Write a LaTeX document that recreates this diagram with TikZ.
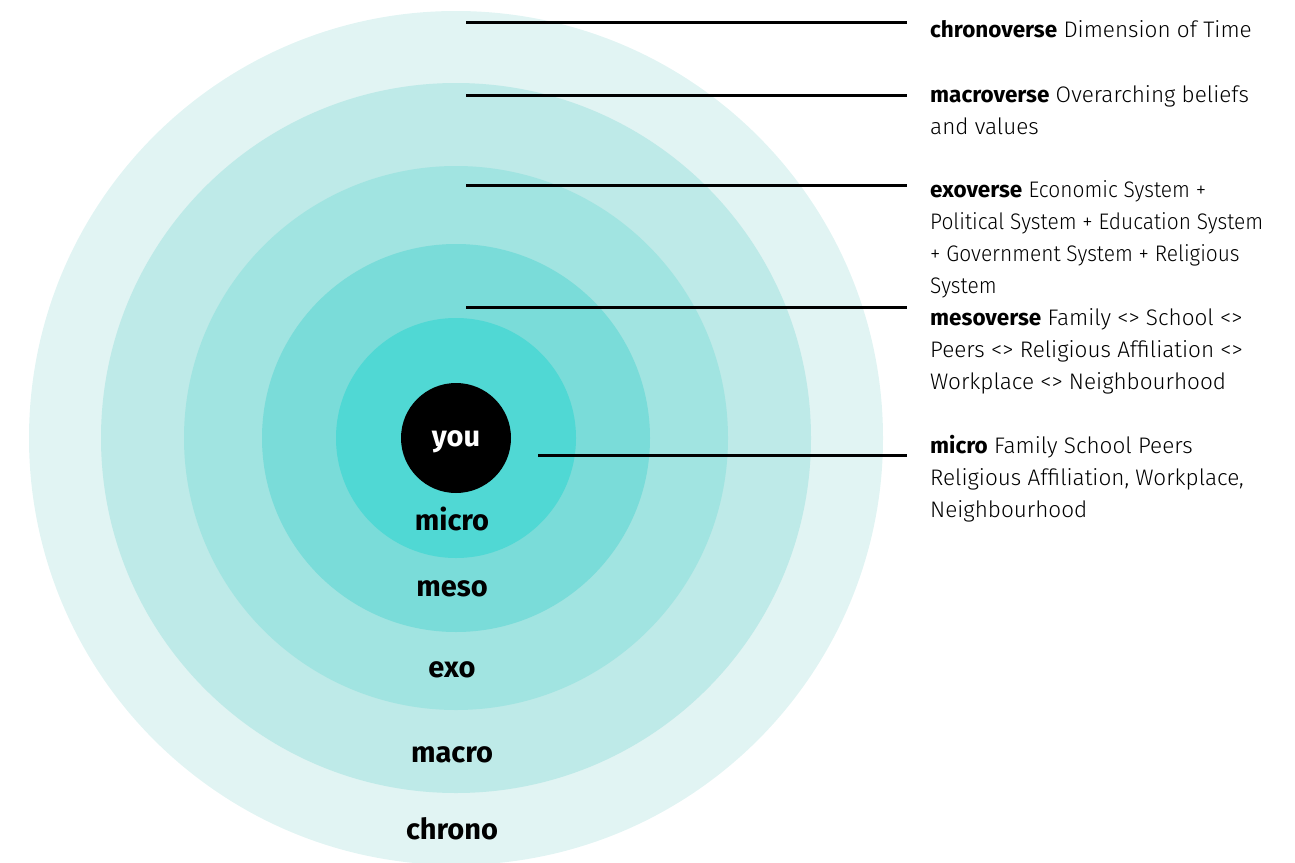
\documentclass[tikz,border=0pt]{standalone}
\usepackage{fontspec}
\setmainfont{Fira Sans}[UprightFont=* Light, BoldFont=* Bold]
\definecolor{cchrono}{HTML}{E1F4F3}
\definecolor{cmacro}{HTML}{BEEAE8}
\definecolor{cexo}{HTML}{A1E4E1}
\definecolor{cmeso}{HTML}{7ADCD9}
\definecolor{cmicro}{HTML}{50D8D4}
\newcommand{\cond}{\addfontfeature{FakeStretch=0.93}}
\tikzset{
  ring/.style={circle, inner sep=0pt, minimum size=#1},
  lvl/.style={font=\fontsize{29}{32}\selectfont\bfseries, inner sep=0pt},
  desc/.style={anchor=north west, align=left, inner sep=0pt,
    font=\fontsize{22.5}{32}\selectfont},
  lead/.style={line width=3pt, black},
}
\begin{document}
\begin{tikzpicture}[x=1pt,y=-1pt]
\useasboundingbox (0,0) rectangle (1295,862);
\node[ring=854pt, fill=cchrono] (chronoC) at (456,438) {};
\node[ring=710pt, fill=cmacro] (macroC) at (456,438) {};
\node[ring=544pt, fill=cexo] (exoC) at (456,438) {};
\node[ring=388pt, fill=cmeso] (mesoC) at (456,438) {};
\node[ring=240pt, fill=cmicro] (microC) at (456,438) {};
\node[ring=110pt, fill=black, text=white, text height=16pt, text depth=0pt,
  font=\fontsize{29}{32}\selectfont\bfseries] (you) at (456,438) {you};
\node[lvl] (lmicro) at (452,519) {micro};
\node[lvl] (lmeso) at (452,589) {meso};
\node[lvl] (lexo) at (452,670) {exo};
\node[lvl] (lmacro) at (452,755) {macro};
\node[lvl] (lchrono) at (452,829) {chrono};

\node[desc] (dchrono) at (930,15) {\strut\textbf{chronoverse} Dimension of Time};
\node[desc] (dmacro) at (930,80) {\strut\textbf{macroverse} Overarching beliefs\\and values};
\node[desc] (dexo) at (930,175) {\strut\textbf{exoverse} {\cond Economic System +}\\{\cond Political System + Education System}\\{\cond + Government System + Religious}\\{\cond System}};
\node[desc] (dmeso) at (930,303) {\strut\textbf{mesoverse} Family <> School <>\\Peers <> Religious Affiliation <>\\Workplace <> Neighbourhood};
\node[desc] (dmicro) at (930,431) {\strut\textbf{micro} Family School Peers\\Religious Affiliation, Workplace,\\Neighbourhood};

\coordinate (s1) at (466,22);
\coordinate (s2) at (466,95);
\coordinate (s3) at (466,185);
\coordinate (s4) at (466,307);
\coordinate (s5) at (538,455);
\draw[lead] (s1) -- ([xshift=-23pt]dchrono.west |- s1);
\draw[lead] (s2) -- ([xshift=-23pt]dmacro.west |- s2);
\draw[lead] (s3) -- ([xshift=-23pt]dexo.west |- s3);
\draw[lead] (s4) -- ([xshift=-23pt]dmeso.west |- s4);
\draw[lead] (s5) -- ([xshift=-23pt]dmicro.west |- s5);
\end{tikzpicture}
\end{document}
